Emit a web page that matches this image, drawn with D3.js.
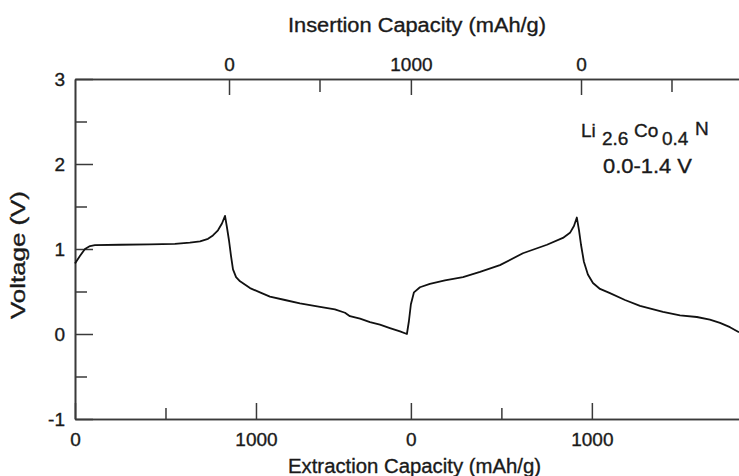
<!DOCTYPE html>
<html>
<head>
<meta charset="utf-8">
<script src="https://cdn.jsdelivr.net/npm/d3@7"></script>
<style>
  body { margin: 0; background: #fff; }
  svg { display: block; }
  text { font-family: "Liberation Sans", Arial, sans-serif; fill: #1a1a1a; stroke: #1a1a1a; stroke-width: 0.35px; }
</style>
</head>
<body>
<div id="chart"></div>
<script>
const width = 739, height = 476;

// running capacity along the plot (mAh/g), one continuous trace
const runCapacity = [0, 28, 55, 83, 110, 249, 414, 552, 635, 691, 735, 762, 790, 812, 829,
    840, 851, 862, 873, 890, 912, 967, 1022, 1077, 1160, 1243, 1354, 1436, 1492, 1519, 1575, 1630, 1685, 1740, 1796, 1834,
    1845, 1856, 1873, 1906, 1961, 2044, 2144, 2238, 2348, 2475, 2608, 2696, 2735, 2757, 2773,
    2785, 2796, 2812, 2834, 2862, 2901, 2956, 3039, 3122, 3249, 3343, 3436, 3508, 3564, 3619, 3669];
const voltage = [0.83, 0.92, 1.0, 1.035, 1.045, 1.05, 1.055, 1.06, 1.075, 1.09, 1.12, 1.16, 1.22, 1.30, 1.39,
    1.25, 1.1, 0.92, 0.76, 0.67, 0.62, 0.54, 0.49, 0.44, 0.40, 0.36, 0.32, 0.29, 0.25, 0.21, 0.18, 0.14, 0.11, 0.07, 0.03, 0.0,
    0.15, 0.35, 0.49, 0.55, 0.59, 0.63, 0.67, 0.73, 0.81, 0.95, 1.05, 1.13, 1.19, 1.27, 1.37,
    1.22, 1.05, 0.85, 0.7, 0.6, 0.53, 0.48, 0.40, 0.33, 0.26, 0.22, 0.20, 0.17, 0.13, 0.08, 0.02];

// extraction axis (bottom)
const bottomMajor = [0, 1000, 1856, 2856];
const bottomLabels = ['0', '1000', '0', '1000'];
const bottomMinor = [500, 2356];

// insertion axis (top)
const topMajor = [851, 1856, 2796];
const topLabels = ['0', '1000', '0'];
const topMinor = [1351, 3296];

const yMajor = [-1, 0, 1, 2, 3];
const yLabels = ['-1', '0', '1', '2', '3'];
const yMinor = [-0.5, 0.5, 1.5, 2.5];

const xScale = d3.scaleLinear().domain([0, 3669]).range([75, 739]);
const yScale = d3.scaleLinear().domain([-1, 3]).range([419, 79]);

const axisColor = '#3a3a3a';

function styleAxis(g, size) {
    g.attr('color', axisColor);
    g.select('.domain').attr('stroke-width', 1.6);
    g.selectAll('.tick line').attr('stroke-width', 1.5);
    g.selectAll('.tick text')
        .attr('font-family', '"Liberation Sans", Arial, sans-serif')
        .attr('font-size', size);
}

function drawAxes(svg) {
    // bottom
    svg.append('g')
        .attr('transform', 'translate(0,' + yScale(-1) + ')')
        .call(d3.axisBottom(xScale).tickValues(bottomMajor)
            .tickFormat((d, i) => bottomLabels[i])
            .tickSizeInner(-16).tickSizeOuter(0).tickPadding(14))
        .call(g => styleAxis(g, 19));
    svg.append('g')
        .attr('transform', 'translate(0,' + yScale(-1) + ')')
        .call(d3.axisBottom(xScale).tickValues(bottomMinor).tickFormat('')
            .tickSizeInner(-11).tickSizeOuter(0))
        .call(g => styleAxis(g, 19));

    // top
    svg.append('g')
        .attr('transform', 'translate(0,' + yScale(3) + ')')
        .call(d3.axisTop(xScale).tickValues(topMajor)
            .tickFormat((d, i) => topLabels[i])
            .tickSizeInner(-16).tickSizeOuter(0).tickPadding(8))
        .call(g => styleAxis(g, 19));
    svg.append('g')
        .attr('transform', 'translate(0,' + yScale(3) + ')')
        .call(d3.axisTop(xScale).tickValues(topMinor).tickFormat('')
            .tickSizeInner(-13).tickSizeOuter(0))
        .call(g => styleAxis(g, 19));

    // left
    svg.append('g')
        .attr('transform', 'translate(' + xScale(0) + ',0)')
        .call(d3.axisLeft(yScale).tickValues(yMajor)
            .tickFormat((d, i) => yLabels[i])
            .tickSizeInner(-18).tickSizeOuter(0).tickPadding(10))
        .call(g => styleAxis(g, 19));
    svg.append('g')
        .attr('transform', 'translate(' + xScale(0) + ',0)')
        .call(d3.axisLeft(yScale).tickValues(yMinor).tickFormat('')
            .tickSizeInner(-12).tickSizeOuter(0))
        .call(g => styleAxis(g, 19));
}

function drawCurve(svg) {
    const pts = runCapacity.map((c, i) => [c, voltage[i]]);
    const line = d3.line()
        .x(d => xScale(d[0]))
        .y(d => yScale(d[1]));
    svg.append('path')
        .datum(pts)
        .attr('d', line)
        .attr('fill', 'none')
        .attr('stroke', '#111')
        .attr('stroke-width', 1.8)
        .attr('stroke-linejoin', 'round');
}

function drawLabels(svg) {
    svg.append('text')
        .attr('x', 288).attr('y', 32)
        .attr('font-size', 20)
        .attr('textLength', 258).attr('lengthAdjust', 'spacingAndGlyphs')
        .text('Insertion Capacity (mAh/g)');
    svg.append('text')
        .attr('x', 288).attr('y', 473)
        .attr('font-size', 20)
        .attr('textLength', 253).attr('lengthAdjust', 'spacingAndGlyphs')
        .text('Extraction Capacity (mAh/g)');
    svg.append('text')
        .attr('transform', 'translate(25,255) rotate(-90)')
        .attr('text-anchor', 'middle')
        .attr('font-size', 20)
        .attr('textLength', 128).attr('lengthAdjust', 'spacingAndGlyphs')
        .text('Voltage (V)');

    // compound label
    const f = svg.append('text').attr('font-size', 19);
    f.append('tspan').attr('x', 581).attr('y', 137).text('Li');
    f.append('tspan').attr('x', 602).attr('y', 145).text('2.6');
    f.append('tspan').attr('x', 634).attr('y', 137).text('Co');
    f.append('tspan').attr('x', 662).attr('y', 145).text('0.4');
    f.append('tspan').attr('x', 695).attr('y', 135).text('N');

    svg.append('text')
        .attr('x', 603).attr('y', 173)
        .attr('font-size', 20)
        .attr('textLength', 89).attr('lengthAdjust', 'spacingAndGlyphs')
        .text('0.0-1.4 V');
}

function main() {
    const svg = d3.select('#chart').append('svg')
        .attr('width', width)
        .attr('height', height);
    drawAxes(svg);
    drawCurve(svg);
    drawLabels(svg);
}

main();
</script>
</body>
</html>
